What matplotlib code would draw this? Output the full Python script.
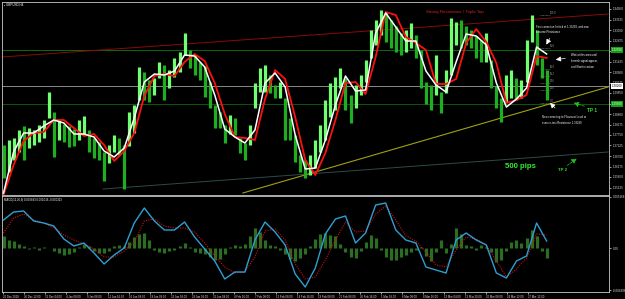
import matplotlib
matplotlib.use('Agg')
import matplotlib.pyplot as plt
import matplotlib.transforms as mtransforms
import numpy as np

plt.rcParams['font.family'] = ['Liberation Sans', 'DejaVu Sans']

# ---------------- data ----------------
bar_high = [1.2725, 1.2750, 1.2760, 1.2800, 1.2820, 1.2810, 1.2800, 1.2825, 1.2850, 1.2990,
            1.2890, 1.2850, 1.2830, 1.2820, 1.2805, 1.2850, 1.2870, 1.2800, 1.2760, 1.2740,
            1.2690, 1.2725, 1.2775, 1.2760, 1.2725, 1.2890, 1.2925, 1.3115, 1.3090, 1.3050,
            1.3060, 1.3140, 1.3125, 1.3100, 1.3160, 1.3190, 1.3285, 1.3200, 1.3175, 1.3140,
            1.3120, 1.3040, 1.2925, 1.2890, 1.2825, 1.2875, 1.2860, 1.2760, 1.2735, 1.2825,
            1.3035, 1.3110, 1.3125, 1.3075, 1.3025, 1.3040, 1.2960, 1.2860, 1.2775, 1.2675,
            1.2650, 1.2675, 1.2750, 1.2825, 1.2950, 1.3035, 1.3065, 1.3110, 1.3060, 1.2975,
            1.3025, 1.3075, 1.3150, 1.3300, 1.3350, 1.3400, 1.3390, 1.3350, 1.3320, 1.3285,
            1.3300, 1.3335, 1.3275, 1.3200, 1.3040, 1.3025, 1.3175, 1.2990, 1.3100, 1.3360,
            1.3340, 1.3350, 1.3320, 1.3300, 1.3270, 1.3250, 1.3285, 1.3150, 1.3020, 1.2960,
            1.3075, 1.3100, 1.3060, 1.3050, 1.3250, 1.3375, 1.3300, 1.3160, 1.3100]
bar_low = [1.2560, 1.2590, 1.2650, 1.2690, 1.2650, 1.2710, 1.2725, 1.2740, 1.2760, 1.2860,
           1.2665, 1.2750, 1.2740, 1.2715, 1.2720, 1.2750, 1.2780, 1.2690, 1.2660, 1.2650,
           1.2545, 1.2635, 1.2690, 1.2675, 1.2505, 1.2720, 1.2785, 1.2950, 1.2950, 1.2940,
           1.2975, 1.3060, 1.2950, 1.3010, 1.3065, 1.3090, 1.3175, 1.3110, 1.3075, 1.3050,
           1.2965, 1.2910, 1.2810, 1.2810, 1.2735, 1.2780, 1.2775, 1.2685, 1.2650, 1.2725,
           1.2910, 1.2990, 1.2990, 1.2985, 1.2960, 1.2960, 1.2750, 1.2750, 1.2640, 1.2590,
           1.2560, 1.2575, 1.2610, 1.2690, 1.2750, 1.2865, 1.2900, 1.3010, 1.2900, 1.2835,
           1.2910, 1.2975, 1.3040, 1.3160, 1.3225, 1.3275, 1.3240, 1.3210, 1.3190, 1.3175,
           1.3190, 1.3210, 1.3160, 1.3010, 1.2930, 1.2900, 1.2975, 1.2885, 1.2985, 1.3075,
           1.3225, 1.3210, 1.3225, 1.3210, 1.3160, 1.3140, 1.3140, 1.3010, 1.2910, 1.2840,
           1.2940, 1.2960, 1.2950, 1.2960, 1.3040, 1.3240, 1.3125, 1.3060, 1.2950]

fast_ma = [1.2485, 1.2690, 1.2785, 1.2785, 1.2820, 1.2850, 1.2835, 1.2780, 1.2780, 1.2765,
           1.2695, 1.2665, 1.2710, 1.2860, 1.3040, 1.3080, 1.3075, 1.3095, 1.3175, 1.3170,
           1.3115, 1.2975, 1.2805, 1.2765, 1.2735, 1.2800, 1.3035, 1.3085, 1.3015, 1.2775,
           1.2605, 1.2610, 1.2750, 1.2925, 1.3070, 1.2995, 1.3000, 1.3285, 1.3385, 1.3315,
           1.3245, 1.3245, 1.3095, 1.3025, 1.2990, 1.3140, 1.3280, 1.3270, 1.3225, 1.3035,
           1.2915, 1.2955, 1.3010, 1.3215, 1.3180]
slow_ma = [1.2475, 1.2625, 1.2745, 1.2785, 1.2790, 1.2850, 1.2850, 1.2810, 1.2770, 1.2780,
           1.2725, 1.2645, 1.2695, 1.2785, 1.2970, 1.3070, 1.3080, 1.3070, 1.3140, 1.3180,
           1.3145, 1.3035, 1.2880, 1.2765, 1.2760, 1.2750, 1.2955, 1.3100, 1.3055, 1.2865,
           1.2650, 1.2575, 1.2685, 1.2850, 1.3035, 1.3040, 1.2980, 1.3165, 1.3390, 1.3375,
           1.3265, 1.3235, 1.3200, 1.3030, 1.3030, 1.3055, 1.3235, 1.3305, 1.3240, 1.3135,
           1.2935, 1.2950, 1.2975, 1.3170, 1.3160]

macd_main = [0.0028, 0.0036, 0.0037, 0.0027, 0.0025, 0.0022, 0.0009, 0.0002, 0.0005, -0.0005,
             -0.0016, -0.0007, 0.0000, 0.0025, 0.0040, 0.0027, 0.0018, 0.0018, 0.0026, 0.0011,
             -0.0001, -0.0013, -0.0031, -0.0024, -0.0024, 0.0008, 0.0026, 0.0016, 0.0003, -0.0026,
             -0.0039, -0.0020, 0.0014, 0.0029, 0.0032, 0.0005, 0.0015, 0.0043, 0.0045, 0.0018,
             0.0008, 0.0005, -0.0019, -0.0022, -0.0025, 0.0008, 0.0015, 0.0008, 0.0003, -0.0025,
             -0.0030, -0.0013, -0.0008, 0.0025, 0.0007]
macd_signal = [0.0015, 0.0030, 0.0034, 0.0028, 0.0025, 0.0020, 0.0013, 0.0008, 0.0004, -0.0001,
               -0.0009, -0.0009, -0.0003, 0.0006, 0.0027, 0.0029, 0.0022, 0.0020, 0.0020, 0.0016,
               0.0005, -0.0008, -0.0019, -0.0025, -0.0024, -0.0009, 0.0017, 0.0019, 0.0008, -0.0016,
               -0.0031, -0.0029, -0.0012, 0.0008, 0.0026, 0.0016, 0.0017, 0.0034, 0.0042, 0.0028,
               0.0012, 0.0007, -0.0004, -0.0017, -0.0019, -0.0002, 0.0011, 0.0009, 0.0003, -0.0013,
               -0.0029, -0.0021, -0.0010, 0.0014, 0.0013]
macd_hist = [0.0012, 0.0008, 0.0007, 0.0004, 0.0002, -0.0001, 0.0001, -0.0002, 0.0001, 0.0000,
             -0.0003, -0.0005, -0.0007, -0.0006, -0.0004, 0.0001, 0.0004, 0.0002, -0.0003, -0.0005,
             -0.0005, -0.0003, 0.0002, 0.0003, 0.0002, 0.0006, 0.0011, 0.0014, 0.0015, 0.0008,
             -0.0002, -0.0004, -0.0005, -0.0003, -0.0002, 0.0002, 0.0005, 0.0001, -0.0004, -0.0005,
             -0.0006, -0.0009, -0.0012, -0.0011, -0.0006, 0.0001, 0.0003, 0.0002, 0.0004, 0.0012,
             0.0020, 0.0016, 0.0008, 0.0003, 0.0002, -0.0002, -0.0006, -0.0011, -0.0013, -0.0010,
             -0.0006, 0.0002, 0.0009, 0.0014, 0.0015, 0.0013, 0.0012, 0.0004, -0.0004, -0.0009,
             -0.0010, -0.0003, 0.0006, 0.0013, 0.0010, -0.0002, -0.0009, -0.0012, -0.0012, -0.0009,
             -0.0007, -0.0004, -0.0002, 0.0001, -0.0008, -0.0013, -0.0004, 0.0008, -0.0005, 0.0004,
             0.0020, 0.0014, 0.0003, 0.0002, -0.0002, 0.0003, 0.0001, -0.0004, -0.0014, -0.0012,
             -0.0003, 0.0006, 0.0008, 0.0005, 0.0010, 0.0018, 0.0012, -0.0003, -0.0010]

date_labels = ["20 Dec 2018", "26 Dec 12:00", "31 Dec 04:00", "4 Jan 08:00", "9 Jan 08:00",
               "11 Jan 16:00", "16 Jan 08:00", "18 Jan 08:00", "23 Jan 08:00", "28 Jan 08:00",
               "31 Jan 08:00", "4 Feb 16:00", "7 Feb 08:00", "12 Feb 08:00", "14 Feb 16:00",
               "19 Feb 08:00", "21 Feb 08:00", "26 Feb 16:00", "1 Mar 08:00", "6 Mar 08:00",
               "8 Mar 16:00", "13 Mar 04:00", "15 Mar 20:00", "20 Mar 08:00", "24 Mar 12:00",
               "27 Mar 12:00"]

level_resistance = 1.3200
level_bid = 1.3020
level_support = 1.2930
resistance_trend = ([-0.3, 120.2], [1.3165, 1.3380])
support_trend = ([47.6, 120.2], [1.2485, 1.3015])
tp2_trend = ([19.8, 120.2], [1.2505, 1.2690])
fib_levels = [1.3375, 1.3210, 1.3105, 1.3070, 1.3035, 1.3000, 1.2935]
fib_names = ["100.0", "61.8", "50.0", "38.2", "23.6", "14.6", "0.0"]
price_ticks = [1.3405 - 0.00525 * k for k in range(18)]

# ---------------- layout ----------------
W, H = 625, 299
fig = plt.figure(figsize=(W / 100, H / 100), dpi=100, facecolor='black')
ax = fig.add_axes([2 / W, (H - 195) / H, 607 / W, 193 / H], facecolor='black')
mx = fig.add_axes([2 / W, (H - 292) / H, 607 / W, 96 / H], facecolor='black')

XL = (-0.3, 120.4)
STEP = 607 / (XL[1] - XL[0])  # px per bar


def px2x(px):
    return XL[0] + (px - 2) / STEP


def P(px, py):  # main-panel pixel position -> axes fraction
    return ((px - 2) / 607, (195 - py) / 193)


for a in (ax, mx):
    a.set_xlim(*XL)
    for s in a.spines.values():
        s.set_color('#c8c8c8')
        s.set_linewidth(0.6)
ax.set_ylim(1.2475, 1.3440)
mx.set_ylim(-0.0044, 0.0052)

# ---------------- main chart ----------------
n = len(bar_high)
xb = np.arange(n)
mids = (np.array(bar_high) + np.array(bar_low)) / 2
cols = ['#70ff70' if (i > 0 and mids[i] >= mids[i - 1]) else '#1fae1f' for i in range(n)]
ax.vlines(xb, bar_low, bar_high, colors=cols, linewidth=2.3, zorder=3)

xm = np.arange(0, n, 2)
ax.plot(xm, slow_ma, color='#ff1010', lw=1.3, zorder=4, solid_joinstyle='round')
ax.plot(xm, fast_ma, color='white', lw=1.1, zorder=5, solid_joinstyle='round')

ax.axhline(level_resistance, color='#0b6b0b', lw=0.7, zorder=1)
ax.axhline(level_bid, color='#8a8a8a', lw=0.7, zorder=1)
ax.axhline(level_support, color='#0b5a0b', lw=0.7, zorder=1)
ax.plot(*resistance_trend, color='#8b0a0a', lw=0.7, zorder=1)
ax.plot(*support_trend, color='#a0a014', lw=0.8, zorder=2)
ax.plot(*tp2_trend, color='#2e4a4a', lw=0.7, zorder=1)

for lv, nm in zip(fib_levels, fib_names):
    ax.plot([106.6, 108.6], [lv, lv], color='#909090', lw=0.5, ls=(0, (1, 1)), zorder=2)
    ax.text(108.7, lv, nm, color='#a0a0a0', fontsize=1.8, va='bottom', ha='left')

# right price scale
ax.yaxis.tick_right()
ax.set_yticks(price_ticks)
ax.set_yticklabels(['%.5f' % v for v in price_ticks])
ax.tick_params(axis='y', colors='#dddddd', labelsize=2.2, length=1.5, width=0.5, pad=1)
ax.set_xticks([])
tr = mtransforms.blended_transform_factory(ax.transAxes, ax.transData)
for lv, fc, tc in [(level_resistance, '#10a010', 'white'), (level_bid, 'white', 'black'),
                   (level_support, '#10a010', 'white')]:
    ax.text(1.004, lv, '%.5f' % lv, transform=tr, fontsize=2.2, color=tc, va='center', ha='left',
            bbox=dict(fc=fc, ec='none', pad=0.6), zorder=10, clip_on=False)

# header
ax.text(*P(4, 5), '\u25aa GBPUSD,H4', transform=ax.transAxes, color='white', fontsize=2.2,
        va='center', ha='left')

# annotations
ax.text(*P(455, 12), 'Strong Resistance / Triple Top', transform=ax.transAxes, color='#d42020',
        fontsize=3.2, ha='center', va='center')
ax.text(*P(536, 29), 'First correction limited at 1.33299, and now\nbecome Resistance',
        transform=ax.transAxes, color='white', fontsize=2.0, ha='left', va='center', linespacing=1.5)
ax.text(*P(571, 61), 'Wait at this area until\nbearish signal appear,\nand Short in action',
        transform=ax.transAxes, color='white', fontsize=2.0, ha='left', va='center', linespacing=1.5)
ax.text(*P(542, 120), 'Now correcting to Fibonacci Level or\neven re-test Resistance 1.33299',
        transform=ax.transAxes, color='white', fontsize=2.0, ha='left', va='center', linespacing=1.5)
ax.text(*P(592, 110), 'TP 1', transform=ax.transAxes, color='#30e030', fontsize=3.4,
        fontweight='bold', ha='center', va='center')
ax.text(*P(520, 167), '500 pips', transform=ax.transAxes, color='#30ee30', fontsize=5.6,
        fontweight='bold', ha='center', va='center')
ax.text(*P(562, 170), 'TP 2', transform=ax.transAxes, color='#30e030', fontsize=3.2,
        fontweight='bold', ha='center', va='center')

arrow_w = dict(arrowstyle='-|>,head_length=0.3,head_width=0.15', color='white', lw=0.5)
arrow_g = dict(arrowstyle='-|>,head_length=0.3,head_width=0.15', color='#20c020', lw=0.5, ls='--')
ax.annotate('', xy=P(545, 47), xytext=P(551, 36), xycoords='axes fraction',
            textcoords='axes fraction', arrowprops=arrow_w)
ax.annotate('', xy=P(553, 60), xytext=P(568, 58), xycoords='axes fraction',
            textcoords='axes fraction', arrowprops=arrow_w)
ax.annotate('', xy=P(548, 101), xytext=P(557, 110), xycoords='axes fraction',
            textcoords='axes fraction', arrowprops=arrow_w)
ax.annotate('', xy=P(571, 102), xytext=P(587, 107), xycoords='axes fraction',
            textcoords='axes fraction', arrowprops=arrow_g)
ax.annotate('', xy=P(579, 157), xytext=P(565, 167), xycoords='axes fraction',
            textcoords='axes fraction', arrowprops=arrow_g)

# ---------------- MACD panel ----------------
mx.vlines(xb, 0, macd_hist, colors='#2b6e22', linewidth=2.3, zorder=2)
mx.plot(xm, macd_signal, color='#d01010', lw=0.8, ls=(0, (1, 1.2)), zorder=3)
mx.plot(xm, macd_main, color='#2f9fd2', lw=1.0, zorder=4, solid_joinstyle='round')
mx.yaxis.tick_right()
mx.set_yticks([0.0051, 0.0, -0.0042])
mx.set_yticklabels(['0.005168', '0.00', '-0.004396'])
mx.tick_params(axis='y', colors='#dddddd', labelsize=2.2, length=1.5, width=0.5, pad=1)
tick_px = [3 + 21 * k for k in range(len(date_labels))]
mx.set_xticks([px2x(p) for p in tick_px])
mx.set_xticklabels(date_labels)
mx.tick_params(axis='x', colors='#dddddd', labelsize=2.0, length=1.5, width=0.5, pad=0.8)
for lab in mx.get_xticklabels():
    lab.set_ha('left')
mx.text(0.003, 0.975, 'MACD(12,26,9) 0.000693 0.001016 -0.000323', transform=mx.transAxes,
        color='white', fontsize=2.0, ha='left', va='top')

fig.savefig('out.png', dpi=100, facecolor='black')
